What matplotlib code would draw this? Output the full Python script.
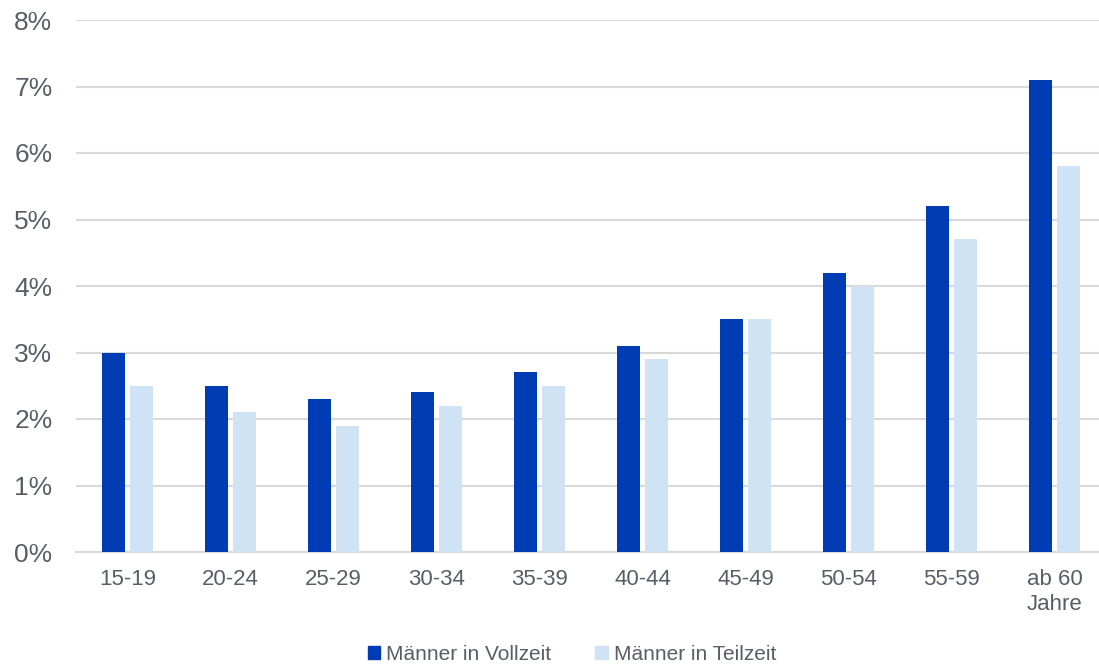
import matplotlib
matplotlib.use("Agg")
import matplotlib.pyplot as plt
import numpy as np
from matplotlib.patches import Patch

plt.rcParams["font.family"] = ["Liberation Sans", "DejaVu Sans"]

# Age groups and shares (in percent)
age_groups = ["15-19", "20-24", "25-29", "30-34", "35-39",
              "40-44", "45-49", "50-54", "55-59", "ab 60\nJahre"]
vollzeit = [3.0, 2.5, 2.3, 2.4, 2.7, 3.1, 3.5, 4.2, 5.2, 7.1]
teilzeit = [2.5, 2.1, 1.9, 2.2, 2.5, 2.9, 3.5, 4.0, 4.7, 5.8]
series_names = ["Männer in Vollzeit", "Männer in Teilzeit"]

dark_blue = "#003CB4"
light_blue = "#CFE3F5"
text_gray = "#595E66"
grid_gray = "#D9D9D9"

fig = plt.figure(figsize=(10.99, 6.66), dpi=100)
ax = fig.add_axes([76 / 1099, 1 - 552 / 666, 1030 / 1099, 532 / 666])

x = np.arange(len(age_groups))
bar_w = 0.22
ax.bar(x - 0.135, vollzeit, width=bar_w, color=dark_blue, zorder=3)
ax.bar(x + 0.135, teilzeit, width=bar_w, color=light_blue, zorder=3)

ax.set_xlim(-0.5, len(age_groups) - 0.5)
ax.set_ylim(0, 8)
ax.set_yticks(range(0, 9))
ax.set_yticklabels([f"{v}%" for v in range(0, 9)])
ax.set_xticks(x)
ax.set_xticklabels(age_groups, linespacing=1.3)

ax.yaxis.grid(True, color=grid_gray, linewidth=1.5, zorder=0)
ax.set_axisbelow(True)
for side in ["top", "right", "left"]:
    ax.spines[side].set_visible(False)
ax.spines["bottom"].set_color(grid_gray)
ax.spines["bottom"].set_linewidth(1.5)

ax.tick_params(axis="y", length=0, pad=17, labelsize=19, labelcolor=text_gray)
ax.tick_params(axis="x", length=0, pad=12, labelsize=16, labelcolor=text_gray)

handles = [Patch(color=dark_blue), Patch(color=light_blue)]
fig.legend(handles, series_names, loc="center", bbox_to_anchor=(572 / 1099, 1 - 654 / 666),
           ncol=2, frameon=False, fontsize=15, labelcolor=text_gray,
           handlelength=0.6, handleheight=0.6, handletextpad=0.3, columnspacing=2.1)

fig.savefig("out.png", dpi=100, facecolor="white")
